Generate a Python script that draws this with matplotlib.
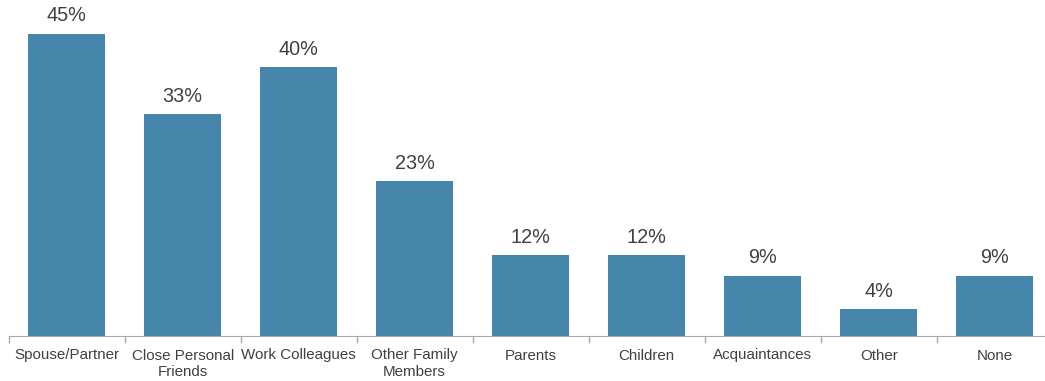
import matplotlib
matplotlib.use('Agg')
import matplotlib.pyplot as plt
import numpy as np

categories = ['Spouse/Partner', 'Close Personal\nFriends', 'Work Colleagues',
              'Other Family\nMembers', 'Parents', 'Children', 'Acquaintances',
              'Other', 'None']
values = [45, 33, 40, 23, 12, 12, 9, 4, 9]

plt.rcParams['font.family'] = ['Liberation Sans', 'DejaVu Sans']

W, H = 1045, 381
fig = plt.figure(figsize=(W / 100, H / 100), dpi=100)
ax = fig.add_axes([8.7 / W, 45 / H, (W - 8.7) / W, 336 / H])

x = np.arange(len(categories))
bars = ax.bar(x, values, width=0.66, color='#4786ab')
for b, v in zip(bars, values):
    ax.annotate('%d%%' % v, (b.get_x() + b.get_width() / 2, v),
                xytext=(0, 6), textcoords='offset points',
                ha='center', va='bottom', fontsize=14.3, color='#404040')

# boundary ticks as major, labels on minor ticks at bar centres
ax.set_xticks(np.arange(len(categories) + 1) - 0.5)
ax.set_xticklabels([])
ax.tick_params(axis='x', which='major', length=5, color='#aaaaaa', width=1)
ax.set_xticks(x, minor=True)
ax.set_xticklabels(categories, minor=True, fontsize=10.9, color='#404040',
                   linespacing=1.2)
ax.tick_params(axis='x', which='minor', length=0, pad=9)
ax.set_yticks([])

# last category runs a little past the right edge
ax.set_xlim(-0.5, 8.434)
ax.set_ylim(0, 50)

for s in ['top', 'right', 'left']:
    ax.spines[s].set_visible(False)
ax.spines['bottom'].set_color('#aaaaaa')

fig.savefig('out.png', dpi=100)
plt.close()
